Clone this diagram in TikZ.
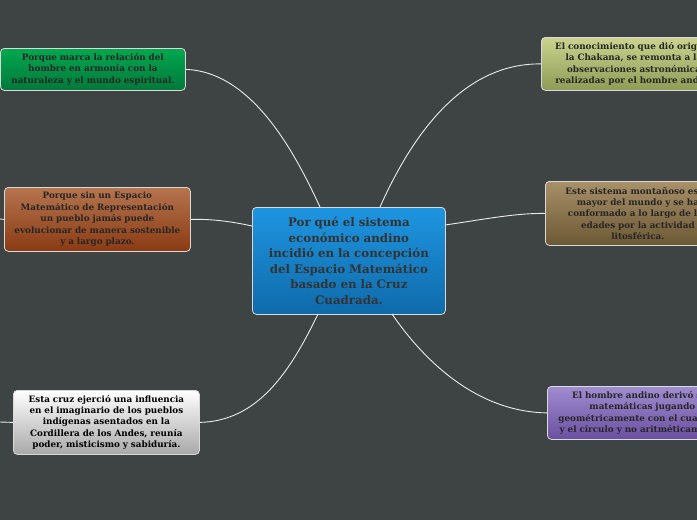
\documentclass[tikz,border=0pt]{standalone}
\usepackage{fontspec}
\setmainfont{DejaVu Serif}
\begin{document}
\begin{tikzpicture}[x=1pt,y=-1pt,
  box/.style={rounded corners=4pt, draw=white!85!black, line width=0.8pt,
    inner sep=0pt, align=center, text=black!85, anchor=north west,
    font=\bfseries\fontsize{8.8}{11.4}\selectfont},
  link/.style={draw=white!92!black, line width=0.9pt}]
\definecolor{bg}{HTML}{3E4444}
\fill[bg] (0,0) rectangle (697,520);
\useasboundingbox (0,0) rectangle (697,520);
\clip (0,0) rectangle (697,520);
% central
\node[box, top color={rgb,255:red,30;green,149;blue,224}, bottom color={rgb,255:red,15;green,106;blue,170},
  minimum width=193pt, minimum height=107pt, text width=189pt,
  font=\bfseries\fontsize{11.8}{15.5}\selectfont, text=black!80] (c) at (252,207)
  {Por qué el sistema\\ económico andino\\ incidió en la concepción\\ del Espacio Matemático\\ basado en la Cruz\\ Cuadrada.};
% left nodes
\node[box, top color={rgb,255:red,0;green,168;blue,79}, bottom color={rgb,255:red,0;green,120;blue,58},
  minimum width=185pt, minimum height=42pt, text width=183pt] (g) at (0,48)
  {Porque marca la relación del\\ hombre en armonía con la\\ naturaleza y el mundo espiritual.};
\node[box, top color={rgb,255:red,181;green,117;blue,79}, bottom color={rgb,255:red,138;green,58;blue,18},
  minimum width=186pt, minimum height=64pt, text width=184pt] (b) at (4,187)
  {Porque sin un Espacio\\ Matemático de Representación\\ un pueblo jamás puede\\ evolucionar de manera sostenible\\ y a largo plazo.};
\node[box, top color=white, bottom color={rgb,255:red,168;green,168;blue,168}, text=black,
  minimum width=186pt, minimum height=64pt, text width=184pt] (w) at (13,390)
  {Esta cruz ejerció una influencia\\ en el imaginario de los pueblos\\ indígenas asentados en la\\ Cordillera de los Andes, reunía\\ poder, misticismo y sabiduría.};
% right nodes
\node[box, top color={rgb,255:red,202;green,212;blue,143}, bottom color={rgb,255:red,141;green,155;blue,85},
  minimum width=190pt, minimum height=53pt, text width=188pt] (o) at (541,37)
  {El conocimiento que dió origen a\\ la Chakana, se remonta a las\\ observaciones astronómicas\\ realizadas por el hombre andino.};
\node[box, top color={rgb,255:red,168;green,144;blue,104}, bottom color={rgb,255:red,107;green,88;blue,52},
  minimum width=185pt, minimum height=64pt, text width=183pt] (t) at (545,181)
  {Este sistema montañoso es el\\ mayor del mundo y  se ha\\ conformado a lo largo de las\\ edades por la actividad\\ litosférica.};
\node[box, top color={rgb,255:red,160;green,140;blue,208}, bottom color={rgb,255:red,106;green,79;blue,160},
  minimum width=190pt, minimum height=53pt, text width=188pt] (p) at (547,386)
  {El hombre andino derivó sus\\ matemáticas jugando\\ geométricamente con el cuadrado\\ y el círculo y no aritméticamente.};
% connectors
\coordinate (c1) at (320,207);
\coordinate (c2) at (380,207);
\coordinate (c3) at (318,314);
\coordinate (c4) at (392,314);
\coordinate (cl) at (252,226);
\coordinate (cr) at (445,225);
\draw[link] (c1) .. controls (298,160) and (255,72) .. (g.east);
\draw[link] (c2) .. controls (410,140) and (460,63) .. (o.west);
\draw[link] (cl) .. controls (225,220) and (205,219) .. (b.east);
\draw[link] (cr) .. controls (480,220) and (515,213) .. (t.west);
\draw[link] (c3) .. controls (290,372) and (258,421) .. (w.east);
\draw[link] (c4) .. controls (432,372) and (485,412) .. (p.west);
\coordinate (sb) at (0,219);
\coordinate (sw) at (0,422);
\draw[link] (sb) -- (b.west);
\draw[link] (sw) -- (w.west);
\end{tikzpicture}
\end{document}
